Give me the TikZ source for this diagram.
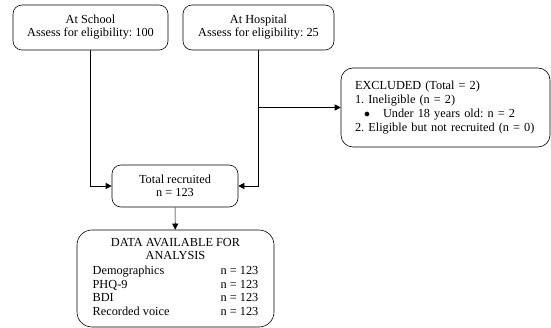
\documentclass[tikz,border=0pt]{standalone}
\usepackage{fontspec}
\setmainfont{Liberation Serif}
\usetikzlibrary{arrows.meta}
\frenchspacing

\tikzset{
  box/.style={draw, line width=0.6pt, rounded corners=9pt, align=center,
    inner sep=0pt, font=\fontsize{12.3}{13}\selectfont},
  link/.style={line width=0.6pt, -{Triangle[length=6pt,width=6pt]}}
}

\begin{document}
\begin{tikzpicture}[x=1pt, y=-1pt]
        \useasboundingbox (0,0) rectangle (551,328);

        \node[box, minimum width=155pt, minimum height=45pt] (school) at (90.5,27.5)
          {At School\\Assess for eligibility:\ 100};
        \node[box, minimum width=151pt, minimum height=45pt] (hospital) at (258.5,27.5)
          {At Hospital\\Assess for eligibility:\ 25};
        \node[box, rounded corners=12pt, align=left, text width=181pt, inner xsep=14pt,
          minimum height=79pt, font=\fontsize{12.3}{14}\selectfont] (excluded) at (445.5,107.5)
          {EXCLUDED (Total = 2)\\
           1. Ineligible (n = 2)\\
           \hspace*{9pt}$\bullet$\hspace{13pt}Under 18 years old: n = 2\\
           2. Eligible but not recruited (n = 0)};
        \node[box, minimum width=126pt, minimum height=42pt] (total) at (175,186)
          {Total recruited\\n = 123};
        \node[box, rounded corners=15pt, minimum width=197pt, minimum height=97pt,
          font=\fontsize{12.3}{13.5}\selectfont] (data) at (175.5,278.5)
          {DATA AVAILABLE FOR\\ANALYSIS\\[1.5pt]
           \begin{tabular}[t]{@{}p{128pt}@{}l@{}}
             Demographics & n = 123\\
             PHQ-9 & n = 123\\
             BDI & n = 123\\
             Recorded voice & n = 123
           \end{tabular}};

        % connectors
        \draw[link] (school) |- (total);
        \draw[link] (hospital) |- (total.east);
        \draw[link] (hospital.south |- excluded.west) -- (excluded.west);
        \draw[link] (total) -- (data);
    \end{tikzpicture}
\end{document}
